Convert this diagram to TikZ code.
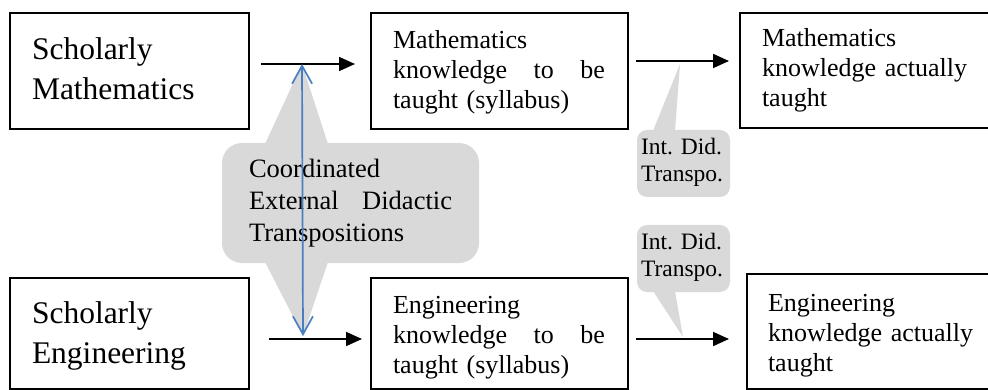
\documentclass[tikz,border=0pt]{standalone}
\usepackage{fontspec}
\setmainfont{Liberation Serif}
\usetikzlibrary{arrows.meta,calc}
\definecolor{callgray}{RGB}{217,217,217}
\definecolor{blueline}{RGB}{74,126,193}
\begin{document}
\begin{tikzpicture}[x=1pt,y=-1pt,
  box/.style={draw, line width=1.3pt, anchor=north west, inner sep=0pt, outer sep=0pt},
  txt/.style={anchor=base west, inner sep=0pt, outer sep=0pt, align=left},
  bigf/.style={font=\fontsize{31.5}{40}\selectfont},
  medf/.style={font=\fontsize{26}{30}\selectfont},
  cof/.style={font=\fontsize{26.5}{32}\selectfont},
  smf/.style={font=\fontsize{23.5}{27}\selectfont},
  arr/.style={line width=1.8pt, -{Triangle[length=16pt,width=14pt]}},
  barr/.style={draw=blueline, line width=1.7pt, {Straight Barb[length=18pt,width=20pt,line width=1.7pt]}-{Straight Barb[length=18pt,width=20pt,line width=1.7pt]}},
  callout/.style={fill=callgray, draw=none}
]
\useasboundingbox (0,0) rectangle (988,390);
\clip (0,0) rectangle (988,390);

% gray callouts
\fill[callout, rounded corners=20pt] (222,143) rectangle (479,263);
\fill[callout] (265,144) -- (302,64) -- (328,144) -- cycle;
\fill[callout] (265,262) -- (303,336) -- (328,262) -- cycle;
\fill[callout, rounded corners=10pt] (637,130) rectangle (730,197);
\fill[callout] (653,131) -- (680,64) -- (675,131) -- cycle;
\fill[callout, rounded corners=10pt] (637,225) rectangle (730,292);
\fill[callout] (653,291) -- (683,337) -- (675,291) -- cycle;

% boxes
\node[box, minimum width=239pt, minimum height=116pt] (A) at (10,13) {};
\node[box, minimum width=257pt, minimum height=116pt] (B) at (371,13) {};
\node[box, minimum width=262pt, minimum height=115pt] (C) at (740,13) {};
\node[box, minimum width=239pt, minimum height=111pt] (D) at (10,278) {};
\node[box, minimum width=257pt, minimum height=111pt] (E) at (371,278) {};
\node[box, minimum width=262pt, minimum height=115pt] (F) at (747,274) {};

% texts
\node[txt, bigf, text width=205pt] (tA) at (32,60) {Scholarly\\Mathematics};
\node[txt, bigf, text width=205pt] (tD) at (32,323) {Scholarly\\Engineering};
\node[txt, medf, text width=212pt] (tB) at (393,49) {Mathematics\\knowledge\hfill to\hfill be\\taught (syllabus)};
\node[txt, medf, text width=212pt] (tE) at (393,313) {Engineering\\knowledge\hfill to\hfill be\\taught (syllabus)};
\node[txt, medf, text width=220pt] (tC) at (762,47) {Mathematics\\knowledge actually\\taught};
\node[txt, medf, text width=215pt] (tF) at (768,311) {Engineering\\knowledge actually\\taught};
\node[txt, cof, text width=203pt] (tCo) at (249,178) {Coordinated\\External\hfill Didactic\\Transpositions};
\node[txt, smf, text width=88pt] (tI1) at (641,155) {Int.\ Did.\\Transpo.};
\node[txt, smf, text width=88pt] (tI2) at (641,250) {Int.\ Did.\\Transpo.};

% arrows
\draw[arr] ($(A.north east)+(12,51)$) -- ($(B.north west)+(-16,51)$);
\draw[arr] ($(B.north east)+(8,48)$) -- ($(C.north west)+(-11,48)$);
\draw[arr] ($(D.north east)+(20,61)$) -- ($(E.north west)+(-9,61)$);
\draw[arr] ($(E.north east)+(8,61)$) -- ($(F.north west)+(-18,65)$);

% blue double arrow
\coordinate (mtop) at (302,64);
\coordinate (mbot) at (303,336);
\draw[barr] (mtop) -- (mbot);
\end{tikzpicture}
\end{document}
